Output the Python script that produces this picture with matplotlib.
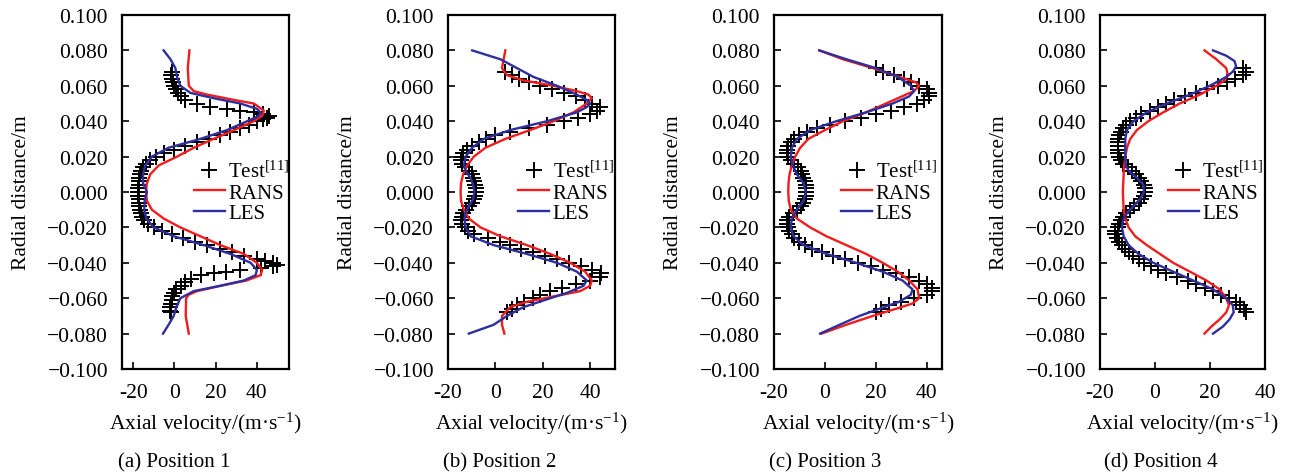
import numpy as np
import matplotlib.pyplot as plt

plt.rcParams['font.family'] = ['Liberation Serif', 'DejaVu Serif']
plt.rcParams['mathtext.fontset'] = 'custom'
plt.rcParams['mathtext.rm'] = 'Liberation Serif'
plt.rcParams['mathtext.it'] = 'Liberation Serif:italic'

# eje y comun (m)
y_ticks = [-0.100, -0.080, -0.060, -0.040, -0.020, 0.000, 0.020, 0.040, 0.060, 0.080, 0.100]
y_ticklabels = ['\u22120.100', '\u22120.080', '\u22120.060', '\u22120.040', '\u22120.020',
                '0.000', '0.020', '0.040', '0.060', '0.080', '0.100']
x_ticks = [-20, 0, 20, 40]
x_ticklabels = ['-20', '0', '20', '40']
subtitles = ['(a) Position 1', '(b) Position 2', '(c) Position 3', '(d) Position 4']

# ---- Position 1 ----
rans_y_1 = [0.080, 0.070, 0.060, 0.057, 0.055, 0.052, 0.050, 0.046, 0.043, 0.040, 0.035, 0.030, 0.025,
            0.020, 0.015, 0.010, 0.005, 0.000, -0.005, -0.010, -0.015, -0.020, -0.025, -0.030, -0.035,
            -0.040, -0.044, -0.047, -0.050, -0.053, -0.056, -0.058, -0.060, -0.070, -0.080]
rans_v_1 = [7.3, 6.5, 7.0, 9.4, 16, 29, 38.5, 43.4, 42.6, 38.5, 29, 19, 9.4,
            1.3, -7.6, -11.7, -13.3, -13.8, -13.3, -10.9, -5.2, 2.9, 12.6, 22.3, 33.7,
            40, 42.6, 41.8, 35, 22.3, 11, 7, 5.7, 5.5, 7]
les_y_1 = [0.080, 0.075, 0.070, 0.065, 0.060, 0.056, 0.053, 0.050, 0.047, 0.045, 0.043, 0.040, 0.035,
           0.030, 0.025, 0.020, 0.015, 0.010, 0.005, 0.002, 0.000, -0.005, -0.010, -0.015, -0.020,
           -0.025, -0.030, -0.035, -0.040, -0.044, -0.047, -0.050, -0.053, -0.056, -0.060, -0.065,
           -0.070, -0.075, -0.080]
les_v_1 = [-5.2, -1.9, 0.5, 1.3, 2.9, 7.8, 19, 32, 40, 41.8, 41, 35.3, 25.6,
           12.6, -2.8, -10.9, -14.1, -15.2, -15.2, -14, -13.3, -14.4, -14.6, -13.6, -10,
           -0.3, 14.2, 27.2, 37, 40, 39.4, 33.7, 22.3, 9.4, 2.9, 1,
           -0.3, -2.8, -5.5]
test_y_1 = [0.068, 0.066, 0.064, 0.062, 0.060, 0.058, 0.056, 0.054, 0.052, 0.050, 0.048, 0.047, 0.046,
            0.045, 0.044, 0.043, 0.042, 0.041, 0.040, 0.038, 0.036, 0.034, 0.032, 0.030, 0.028, 0.026,
            0.024, 0.022, 0.020, 0.018, 0.016, 0.014, 0.012, 0.010, 0.008, 0.006, 0.004, 0.002, 0.000,
            -0.002, -0.004, -0.006, -0.008, -0.010, -0.012, -0.014, -0.016, -0.018, -0.020, -0.022,
            -0.024, -0.026, -0.028, -0.030, -0.032, -0.034, -0.036, -0.038, -0.039, -0.040, -0.041,
            -0.042, -0.043, -0.044, -0.045, -0.046, -0.047, -0.049, -0.051, -0.053, -0.055, -0.057,
            -0.059, -0.061, -0.063, -0.065, -0.067, -0.068]
test_v_1 = [-1, -1.5, -1, -0.5, 0, 1, 2, 3, 5, 11, 17.5, 25.6, 32,
            38.5, 43, 46, 45, 43, 40, 36, 32, 27, 22, 17, 11, 5,
            0, -5, -9, -12, -14, -15, -16, -16.5, -17, -17, -17, -17.5, -17.5,
            -17.5, -17, -17, -17, -16.5, -16, -15.5, -14.5, -13, -10, -6,
            -1, 4, 10, 16, 22, 28, 34, 40, 44, 48, 50,
            48, 42, 32, 25, 19, 13, 8, 5, 3, 1, 0,
            -1, -1, -1.5, -2, -2, -1.5]

# ---- Position 2 ----
rans_y_2 = [0.080, 0.075, 0.070, 0.066, 0.063, 0.060, 0.057, 0.055, 0.053, 0.050, 0.045, 0.040, 0.035,
            0.030, 0.025, 0.020, 0.015, 0.010, 0.005, 0.000, -0.005, -0.010, -0.015, -0.020, -0.025,
            -0.030, -0.035, -0.040, -0.045, -0.050, -0.053, -0.056, -0.059, -0.062, -0.065, -0.070,
            -0.075, -0.080]
rans_v_2 = [4.2, 3.5, 2.8, 4.9, 11.9, 24.6, 34.4, 39.3, 40.7, 38.6, 33, 24.6, 14.7,
            4.2, -4.2, -9.1, -11.9, -13.6, -14.5, -14.7, -14.5, -13.3, -11.2, -6.3, 2.1,
            13.3, 23.2, 31.6, 37.9, 40.7, 40, 35.8, 24.6, 13.3, 6.3, 2.8,
            2.8, 3.8]
les_y_2 = [0.080, 0.075, 0.072, 0.070, 0.065, 0.060, 0.055, 0.052, 0.050, 0.048, 0.045, 0.040, 0.035,
           0.030, 0.025, 0.020, 0.015, 0.012, 0.008, 0.004, 0.000, -0.004, -0.008, -0.012, -0.015,
           -0.020, -0.025, -0.030, -0.035, -0.040, -0.045, -0.050, -0.053, -0.057, -0.060, -0.065,
           -0.070, -0.075, -0.080]
les_v_2 = [-9.8, 2.1, 6.3, 9.1, 16.1, 26, 34.4, 38.6, 40, 38.6, 34.4, 21.8, 6.3,
           -4.9, -9.8, -12.6, -13.3, -12.6, -10.5, -9.4, -8.8, -9.4, -11.2, -12.6, -13,
           -12.6, -10.5, -0.7, 13.3, 26, 34.4, 38.6, 37.2, 30.2, 23.2, 11.9,
           4.9, -0.7, -11.2]
test_y_2 = [0.068, 0.066, 0.064, 0.062, 0.060, 0.058, 0.056, 0.054, 0.052, 0.050, 0.048, 0.046, 0.044,
            0.042, 0.040, 0.038, 0.036, 0.034, 0.032, 0.030, 0.028, 0.026, 0.024, 0.022, 0.020, 0.018,
            0.016, 0.014, 0.012, 0.010, 0.008, 0.006, 0.004, 0.002, 0.000, -0.002, -0.004, -0.006,
            -0.008, -0.010, -0.012, -0.014, -0.016, -0.018, -0.020, -0.022, -0.024, -0.026, -0.028,
            -0.030, -0.032, -0.034, -0.036, -0.038, -0.040, -0.042, -0.044, -0.046, -0.048, -0.050,
            -0.052, -0.054, -0.056, -0.058, -0.060, -0.062, -0.064, -0.066, -0.068]
test_v_2 = [4, 7, 10, 14, 19, 24, 29, 34, 38, 41, 44, 43, 40,
            35, 29, 22, 14, 6, 0, -4, -7, -10, -12, -13.5, -14, -14.5,
            -14, -13, -11, -10, -9.5, -9, -8.5, -8, -8, -8.5, -9, -10,
            -11, -12.5, -13.5, -14, -14.5, -14, -13, -11.5, -9, -3, 2,
            6, 11, 16, 21, 26, 31, 36, 41, 44.6, 44, 40,
            34, 28, 23, 19, 16, 12, 9, 7, 5]

# ---- Position 3 ----
rans_y_3 = [0.080, 0.075, 0.070, 0.065, 0.062, 0.060, 0.057, 0.055, 0.050, 0.045, 0.040, 0.035, 0.030,
            0.025, 0.020, 0.015, 0.010, 0.005, 0.000, -0.005, -0.010, -0.015, -0.020, -0.025, -0.030,
            -0.035, -0.040, -0.045, -0.050, -0.055, -0.060, -0.063, -0.066, -0.070, -0.075, -0.080]
rans_v_3 = [-2.2, 7.1, 18.8, 29.2, 35.7, 37, 35, 31.8, 24, 16.2, 7.1, 0, -6.5,
            -9.7, -11.7, -13, -13.9, -14.3, -14.4, -14.2, -13.4, -11, -5.8, 0.6, 8.4,
            16.2, 22.7, 28.6, 33.1, 36.4, 37, 34.4, 27.9, 18.8, 8.4, -1.3]
les_y_3 = [0.080, 0.075, 0.070, 0.065, 0.060, 0.057, 0.054, 0.050, 0.045, 0.040, 0.035, 0.030, 0.025,
           0.020, 0.015, 0.010, 0.005, 0.000, -0.005, -0.010, -0.015, -0.020, -0.025, -0.030, -0.035,
           -0.040, -0.045, -0.050, -0.055, -0.058, -0.062, -0.066, -0.070, -0.075, -0.080]
les_v_3 = [-2.2, 8.4, 20, 28.6, 33.8, 35, 33.1, 26.6, 16.2, 4.5, -5.8, -11, -13,
           -13.4, -12.6, -11, -8.4, -7.5, -8.4, -11, -13, -13.4, -12.3, -8.4, 0.6,
           12.3, 22.7, 30.5, 34.4, 33.8, 29.2, 21.4, 13.6, 5.8, -1.9]
test_y_3 = [0.070, 0.068, 0.066, 0.064, 0.062, 0.060, 0.058, 0.056, 0.054, 0.052, 0.050, 0.048, 0.046,
            0.044, 0.042, 0.040, 0.038, 0.036, 0.034, 0.032, 0.030, 0.028, 0.026, 0.024, 0.022, 0.020,
            0.018, 0.016, 0.014, 0.012, 0.010, 0.008, 0.006, 0.004, 0.002, 0.000, -0.002, -0.004,
            -0.006, -0.008, -0.010, -0.012, -0.014, -0.016, -0.018, -0.020, -0.022, -0.024, -0.026,
            -0.028, -0.030, -0.032, -0.034, -0.036, -0.038, -0.040, -0.042, -0.044, -0.046, -0.048,
            -0.050, -0.052, -0.054, -0.056, -0.058, -0.060, -0.062, -0.064, -0.066, -0.068]
test_v_3 = [20, 23, 27, 31, 34, 37, 40, 41, 41, 39, 36, 31, 26,
            20, 14, 8, 2, -3, -7, -10, -12, -13.5, -14.5, -15, -15, -14.5,
            -13.5, -12, -10.5, -9.5, -9, -8.5, -8, -7.5, -7.5, -7.5, -7.5, -8,
            -8.5, -9.5, -11, -12.5, -14, -15, -15, -14.5, -14, -13, -12,
            -10, -8, -5, -1, 3, 8, 13, 18, 23, 28, 33,
            37, 40, 42, 42, 40, 35, 30, 25, 22, 20]

# ---- Position 4 ----
rans_y_4 = [0.080, 0.075, 0.070, 0.066, 0.063, 0.060, 0.055, 0.050, 0.045, 0.040, 0.035, 0.030, 0.025,
            0.020, 0.015, 0.010, 0.000, -0.010, -0.015, -0.020, -0.025, -0.030, -0.035, -0.040, -0.045,
            -0.050, -0.055, -0.060, -0.064, -0.068, -0.072, -0.076, -0.080]
rans_v_4 = [18, 22.3, 25.9, 26.5, 25.3, 22.3, 16.3, 9, 3, -2.4, -6.6, -9, -10.2,
            -10.8, -11.2, -11.4, -11.7, -11.4, -10.8, -9.6, -7.2, -3, 1.8, 6.6, 12.7,
            18.7, 23.5, 25.9, 26.9, 25.9, 23.5, 20.5, 18]
les_y_4 = [0.080, 0.077, 0.074, 0.071, 0.068, 0.065, 0.060, 0.055, 0.050, 0.045, 0.040, 0.035, 0.030,
           0.025, 0.020, 0.015, 0.012, 0.008, 0.004, 0.000, -0.004, -0.008, -0.012, -0.016, -0.020,
           -0.025, -0.030, -0.035, -0.040, -0.045, -0.050, -0.055, -0.060, -0.064, -0.068, -0.072,
           -0.076, -0.080]
les_v_4 = [21.1, 25.9, 28.9, 29.5, 28.3, 25.9, 19.9, 12.7, 4.2, -3, -7.8, -10.2, -10.8,
           -10.8, -10.8, -10.6, -9.6, -6.6, -4.2, -4, -5.4, -7.8, -10.2, -11.7, -12,
           -11.4, -9.6, -6, -0.6, 6.6, 13.9, 21.1, 25.9, 28.3, 28.6, 27.1,
           24.7, 21.1]
test_y_4 = [0.070, 0.068, 0.066, 0.064, 0.062, 0.060, 0.058, 0.056, 0.054, 0.052, 0.050, 0.048, 0.046,
            0.044, 0.042, 0.040, 0.038, 0.036, 0.034, 0.032, 0.030, 0.028, 0.026, 0.024, 0.022, 0.020,
            0.018, 0.016, 0.014, 0.012, 0.010, 0.008, 0.006, 0.004, 0.002, 0.000, -0.002, -0.004,
            -0.006, -0.008, -0.010, -0.012, -0.014, -0.016, -0.018, -0.020, -0.022, -0.024, -0.026,
            -0.028, -0.030, -0.032, -0.034, -0.036, -0.038, -0.040, -0.042, -0.044, -0.046, -0.048,
            -0.050, -0.052, -0.054, -0.056, -0.058, -0.060, -0.062, -0.064, -0.066, -0.068]
test_v_4 = [32, 33, 32, 29, 26, 23, 19, 15, 11, 7, 4, 1, -2,
            -5, -7, -9, -10.5, -11.5, -12.5, -13, -13.5, -13.5, -13.5, -13.5, -13.5, -13,
            -12.5, -11.5, -10, -8.5, -7, -6, -5, -4, -3.5, -3.5, -4, -5,
            -6, -7.5, -9, -10.5, -11.5, -12.5, -13, -13.5, -14.5, -14.5, -14,
            -13, -12, -11, -9.5, -8, -6, -4, -1.5, 1, 4, 8,
            12, 15, 18, 21, 24, 27, 29.5, 31, 32.5, 33]

panels = [
    (rans_y_1, rans_v_1, les_y_1, les_v_1, test_y_1, test_v_1),
    (rans_y_2, rans_v_2, les_y_2, les_v_2, test_y_2, test_v_2),
    (rans_y_3, rans_v_3, les_y_3, les_v_3, test_y_3, test_v_3),
    (rans_y_4, rans_v_4, les_y_4, les_v_4, test_y_4, test_v_4),
]

# posiciones de los ejes en pixeles (izq, ancho) y limites de x
ax_left = [122, 448, 774, 1100]
ax_width = [167, 167, 168, 165]
x_limits = [(-25.4, 55.6), (-20, 50.5), (-20, 46), (-20, 40)]
sub_x = [174, 500, 825, 1161]
leg_x = [0.43, 0.42, 0.40, 0.41]

W, H = 1296, 477
fig = plt.figure(figsize=(W / 100, H / 100), dpi=100)

for i in range(4):
    ry, rv, ly, lv, ty, tv = panels[i]
    ax = fig.add_axes([ax_left[i] / W, (H - 370) / H, ax_width[i] / W, 354 / H])
    ax.plot(tv, ty, linestyle='none', marker='+', markersize=12, markeredgewidth=1.4,
            color='black', label='Test$^{[11]}$', zorder=2)
    ax.plot(rv, ry, color='#f21c1c', lw=1.7, label='RANS', zorder=3)
    ax.plot(lv, ly, color='#2e2e9e', lw=1.7, label='LES', zorder=3)
    ax.set_xlim(x_limits[i])
    ax.set_ylim(-0.1, 0.1)
    ax.set_xticks(x_ticks)
    ax.set_xticklabels(x_ticklabels)
    ax.set_yticks(y_ticks)
    ax.set_yticklabels(y_ticklabels)
    ax.tick_params(direction='in', length=5, width=1.2, labelsize=15.5, top=False, right=False)
    ax.tick_params(axis='y', pad=10)
    ax.tick_params(axis='x', pad=10)
    for s in ax.spines.values():
        s.set_linewidth(1.6)
    ax.set_xlabel('Axial velocity/(m\u00b7s$^{-1}$)', fontsize=15.5, labelpad=6)
    ax.set_ylabel('Radial distance/m', fontsize=15.5, labelpad=12)
    leg = ax.legend(loc='center left', bbox_to_anchor=(leg_x[i], 0.5), frameon=False, fontsize=15,
                    handlelength=1.5, handletextpad=0.15, labelspacing=0.05, borderpad=0, borderaxespad=0)
    fig.text(sub_x[i] / W, 1 - 463 / H, subtitles[i], ha='center', va='center', fontsize=15)

plt.savefig('out.png', dpi=100)
